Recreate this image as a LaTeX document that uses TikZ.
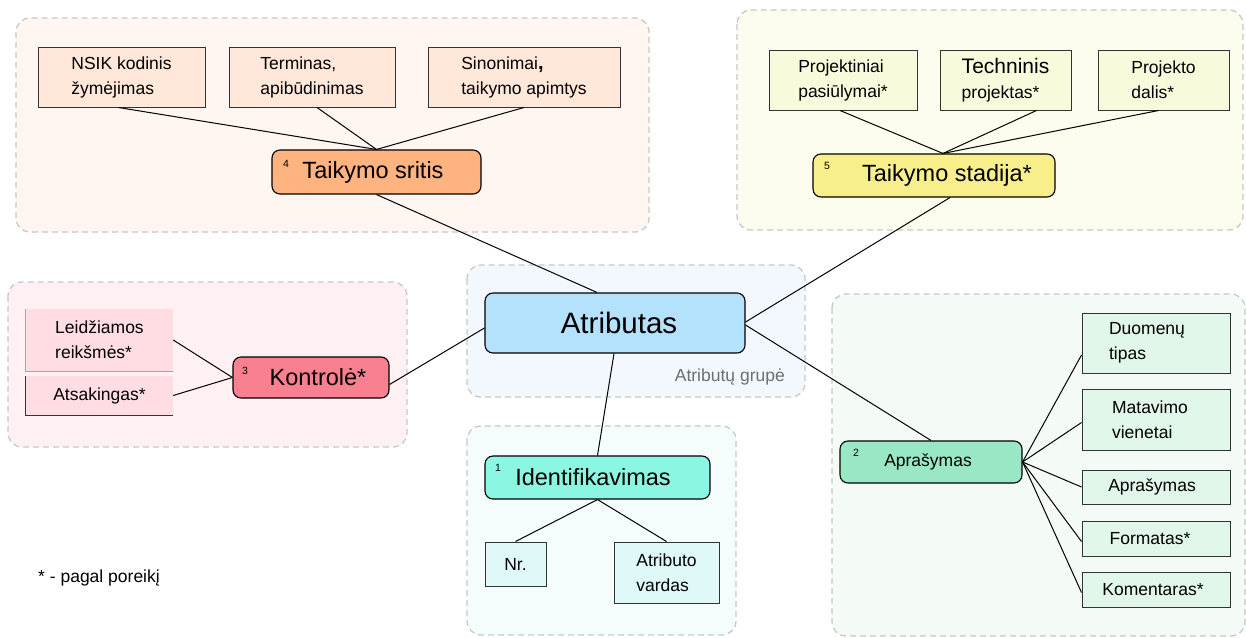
\documentclass[tikz,border=0pt]{standalone}
\usepackage{fontspec}
\setmainfont{Liberation Sans}
\usetikzlibrary{calc}
\definecolor{grpline}{HTML}{C8C8C8}
\definecolor{gTL}{HTML}{FFF6F2}
\definecolor{gTR}{HTML}{FCFCEF}
\definecolor{gL}{HTML}{FFF1F3}
\definecolor{gC}{HTML}{F2F8FE}
\definecolor{gB}{HTML}{F5FCFC}
\definecolor{gR}{HTML}{F4FBF6}
\definecolor{lTL}{HTML}{FFE8D9}
\definecolor{lTR}{HTML}{F9FADC}
\definecolor{lL}{HTML}{FFDDE3}
\definecolor{lB}{HTML}{DFF8F8}
\definecolor{lR}{HTML}{E0F7EA}
\definecolor{cTS}{HTML}{FFB37F}
\definecolor{cTST}{HTML}{F9EE8C}
\definecolor{cK}{HTML}{F9818F}
\definecolor{cAtr}{HTML}{B4E1FC}
\definecolor{cId}{HTML}{8BF7E2}
\definecolor{cAp}{HTML}{99E7C5}
\definecolor{leafline}{HTML}{333333}
\definecolor{lblgray}{HTML}{6E6E6E}
\begin{document}
\begin{tikzpicture}[x=1pt,y=-1pt,
  grp/.style={draw=grpline, dash pattern=on 6pt off 4pt, line width=1.3pt, rounded corners=14pt},
  cat/.style={draw=black, line width=1.1pt, rounded corners=8pt, inner sep=0pt},
  cattext/.style={inner sep=0pt, font=\fontsize{23.5}{28}\selectfont},
  leaf/.style={draw=leafline, line width=1pt, inner sep=0pt, align=left, font=\fontsize{17.5}{25}\selectfont},
  bare/.style={inner sep=0pt, align=left, font=\fontsize{17.5}{25}\selectfont},
  supnum/.style={font=\fontsize{10.5}{12}\selectfont, inner sep=0pt},
  conn/.style={line width=1pt, black}]
\useasboundingbox (0,0) rectangle (1246,637);

% groups
\draw[grp, fill=gTL] (16,18) rectangle (649,232);
\draw[grp, fill=gTR] (737,10) rectangle (1243,230);
\draw[grp, fill=gL] (8,282) rectangle (407,447);
\draw[grp, fill=gC] (467,265) rectangle (805,397);
\draw[grp, fill=gB] (467,426) rectangle (736,635);
\draw[grp, fill=gR] (832,294) rectangle (1245,636);
\node[inner sep=0pt, anchor=east, text=lblgray, font=\fontsize{17.5}{20}\selectfont] (grplbl) at (785,377) {Atributų grupė};

% main node
\node[cat, fill=cAtr, minimum width=260pt, minimum height=60pt, font=\fontsize{29.5}{35}\selectfont] (atr) at (615,323) {\hspace*{8pt}Atributas};

% Taikymo sritis
\node[cat, fill=cTS, minimum width=209pt, minimum height=44pt] (ts) at (376.5,172) {};
\node[cattext] (tsT) at (373,172) {Taikymo sritis};
\node[supnum] (tsN) at (286,164) {4};
\node[leaf, fill=lTL, minimum width=167pt, minimum height=60pt] (nsik) at (121.5,77) {NSIK kodinis\\žymėjimas};
\node[leaf, fill=lTL, minimum width=166pt, minimum height=60pt] (term) at (312,77) {Terminas,\\apibūdinimas};
\node[leaf, fill=lTL, minimum width=192pt, minimum height=60pt] (sino) at (524,77) {Sinonimai{\fontsize{20}{25}\selectfont\textbf{,}}\\taikymo apimtys};

% Taikymo stadija
\node[cat, fill=cTST, minimum width=242pt, minimum height=43pt] (tst) at (934,175.5) {};
\node[cattext] (tstT) at (947,175.5) {Taikymo stadija*};
\node[supnum] (tstN) at (827,166) {5};
\node[leaf, fill=lTR, minimum width=148pt, minimum height=60pt] (proj) at (843,80) {Projektiniai\\pasiūlymai*};
\node[leaf, fill=lTR, minimum width=131pt, minimum height=60pt] (tech) at (1005.5,80) {{\fontsize{21}{25}\selectfont Techninis}\\projektas*};
\node[leaf, fill=lTR, minimum width=131pt, minimum height=60pt] (pdal) at (1163.5,80) {Projekto\\dalis*};

% Kontrole
\node[cat, fill=cK, minimum width=156pt, minimum height=41pt] (kon) at (311,377.5) {};
\node[cattext] (konT) at (318,377.5) {Kontrolė*};
\node[supnum] (konN) at (245,371) {3};
\node[bare, fill=lL, minimum width=147pt, minimum height=62pt] (leid) at (99.5,340) {Leidžiamos\\reikšmės*};
\node[bare, fill=lL, minimum width=147pt, minimum height=39pt] (ats) at (99.5,395.5) {Atsakingas*};
\draw[line width=0.8pt, gray!70] (leid.north west) -- (leid.south west) -- (leid.south east);
\draw[line width=1pt, leafline] (ats.north west) -- (ats.south west) -- (ats.south east);

% Identifikavimas
\node[cat, fill=cId, minimum width=225pt, minimum height=43pt] (idf) at (597.5,477.5) {};
\node[cattext] (idfT) at (593,477.5) {Identifikavimas};
\node[supnum] (idfN) at (498,468) {1};
\node[leaf, fill=lB, minimum width=61pt, minimum height=44pt] (nr) at (515.5,564) {Nr.};
\node[leaf, fill=lB, minimum width=105pt, minimum height=61pt] (avar) at (666.5,572.5) {Atributo\\vardas};

% Aprasymas
\node[cat, fill=cAp, minimum width=182pt, minimum height=42pt] (apr) at (931,462) {};
\node[bare] (aprT) at (928,462) {Aprašymas};
\node[supnum] (aprN) at (856,453) {2};
\node[leaf, fill=lR, minimum width=148pt, minimum height=60pt] (duo) at (1156,343) {Duomenų\hspace*{18pt}\\tipas};
\node[leaf, fill=lR, minimum width=148pt, minimum height=61pt] (mat) at (1156,419.5) {Matavimo\hspace*{12pt}\\vienetai};
\node[leaf, fill=lR, minimum width=148pt, minimum height=34pt] (apr2) at (1156,487) {Aprašymas\hspace*{8pt}};
\node[leaf, fill=lR, minimum width=148pt, minimum height=35pt] (form) at (1156,538.5) {Formatas*\hspace*{12pt}};
\node[leaf, fill=lR, minimum width=148pt, minimum height=35pt] (kom) at (1156,589.5) {Komentaras*\hspace*{6pt}};

% footnote
\node[inner sep=0pt, anchor=west, font=\fontsize{17.5}{20}\selectfont] (foot) at (38,578) {* - pagal poreikį};

% connectors
\draw[conn] ([xshift=-3pt]nsik.south) -- (ts.north);
\draw[conn] ([xshift=5pt]term.south) -- (ts.north);
\draw[conn] (sino.south) -- (ts.north);
\draw[conn] (ts.south) -- ([xshift=-18pt]atr.north);

\draw[conn] ([xshift=-3pt]proj.south) -- ([xshift=9pt]tst.north);
\draw[conn] ([xshift=31pt]tech.south) -- ([xshift=9pt]tst.north);
\draw[conn] ([xshift=-5pt]pdal.south) -- ([xshift=9pt]tst.north);
\draw[conn] ([xshift=16pt]tst.south) -- ([yshift=1pt]atr.east);

\draw[conn] (leid.east) -- (kon.west);
\draw[conn] (ats.east) -- (kon.west);
\draw[conn] ([yshift=-7pt]kon.east) -- ([yshift=-5pt]atr.west);

\draw[conn] ([xshift=-1pt]atr.south) -- (idf.north);
\draw[conn] (idf.south) -- (nr.north);
\draw[conn] (idf.south) -- (avar.north);

\draw[conn] ([yshift=-2pt]atr.east) -- (apr.north);
\draw[conn] (apr.east) -- ([yshift=-12pt]duo.west);
\draw[conn] (apr.east) -- ([yshift=-3pt]mat.west);
\draw[conn] (apr.east) -- (apr2.west);
\draw[conn] (apr.east) -- ([yshift=-3pt]form.west);
\draw[conn] (apr.east) -- ([yshift=-3pt]kom.west);
\end{tikzpicture}
\end{document}
